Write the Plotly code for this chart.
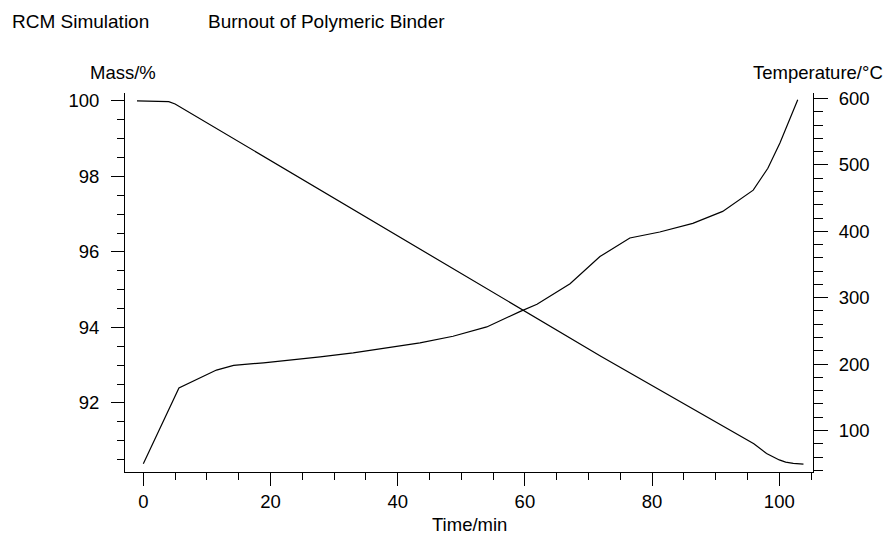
import plotly.graph_objects as go

# Mass curve (left axis, %)
mass_time = [-1.0, 3.0, 4.0, 5.0, 59.8, 72.0, 96.0, 98.0, 100.0, 101.0, 102.2, 103.8]
mass_pct = [100.0, 100.0, 99.98, 99.92, 94.45, 93.23, 90.92, 90.66, 90.49, 90.43, 90.40, 90.38]

# Temperature curve (right axis, °C)
temp_time = [0.0, 5.6, 11.5, 14.2, 18.9, 24.1, 27.8, 33.0, 38.0, 43.5, 48.7, 54.0, 59.2, 61.9,
             67.1, 71.8, 76.5, 81.2, 86.4, 91.1, 95.9, 98.2, 100.1, 102.9]
temp_c = [50, 164, 191, 198, 202, 207, 211, 217, 224, 232, 242, 256, 279, 290,
          321, 362, 390, 399, 412, 430, 462, 495, 533, 598]

x_ticks = [0, 20, 40, 60, 80, 100]
mass_ticks = [92, 94, 96, 98, 100]
temp_ticks = [100, 200, 300, 400, 500, 600]

FONT = "Liberation Sans, Arial, Helvetica, sans-serif"
FS = 18.5

fig = go.Figure()
fig.add_trace(go.Scatter(x=mass_time, y=mass_pct, mode="lines",
                         line=dict(color="black", width=1.2), yaxis="y", showlegend=False))
fig.add_trace(go.Scatter(x=temp_time, y=temp_c, mode="lines",
                         line=dict(color="black", width=1.2), yaxis="y2", showlegend=False))

axis_common = dict(showline=True, linecolor="black", linewidth=1, showgrid=False,
                   zeroline=False, ticks="outside", tickcolor="black", tickwidth=1,
                   tickfont=dict(family=FONT, size=FS, color="black"))

fig.update_layout(
    width=884, height=536,
    margin=dict(l=125, r=71, t=93, b=64),
    paper_bgcolor="white", plot_bgcolor="white",
    font=dict(family=FONT, size=FS, color="black"),
    xaxis=dict(range=[-2.88, 105.3], tickvals=x_ticks, ticklen=13,
               minor=dict(dtick=5, tick0=0, ticklen=7, ticks="outside", tickcolor="black"),
               **axis_common),
    yaxis=dict(range=[90.17, 100.21], tickvals=mass_ticks, ticklen=13,
               ticklabelstandoff=8,
               minor=dict(dtick=0.5, tick0=90, ticklen=7, ticks="outside", tickcolor="black"),
               **axis_common),
    yaxis2=dict(range=[37.5, 608.3], tickvals=temp_ticks, ticklen=14, overlaying="y",
                side="right", ticklabelstandoff=7,
                minor=dict(dtick=20, tick0=0, ticklen=9, ticks="outside", tickcolor="black"),
                **axis_common),
    annotations=[
        dict(text="RCM Simulation", xref="paper", yref="paper", x=(10 - 125) / 688,
             y=(472 - 21) / 379, xanchor="left", yanchor="middle", showarrow=False,
             font=dict(family=FONT, size=19)),
        dict(text="Burnout of Polymeric Binder", xref="paper", yref="paper",
             x=(206 - 125) / 688, y=(472 - 21) / 379, xanchor="left", yanchor="middle",
             showarrow=False, font=dict(family=FONT, size=19)),
        dict(text="Mass/%", xref="paper", yref="paper", x=(123 - 125) / 688,
             y=(472 - 72) / 379, xanchor="center", yanchor="middle", showarrow=False,
             font=dict(family=FONT, size=FS)),
        dict(text="Temperature/°C", xref="paper", yref="paper", x=(885 - 125) / 688,
             y=(472 - 72) / 379, xanchor="right", yanchor="middle", showarrow=False,
             font=dict(family=FONT, size=FS)),
        dict(text="Time/min", xref="paper", yref="paper", x=0.5,
             y=(472 - 524) / 379, xanchor="center", yanchor="middle", showarrow=False,
             font=dict(family=FONT, size=FS)),
    ],
)

fig.write_html("out.html")
